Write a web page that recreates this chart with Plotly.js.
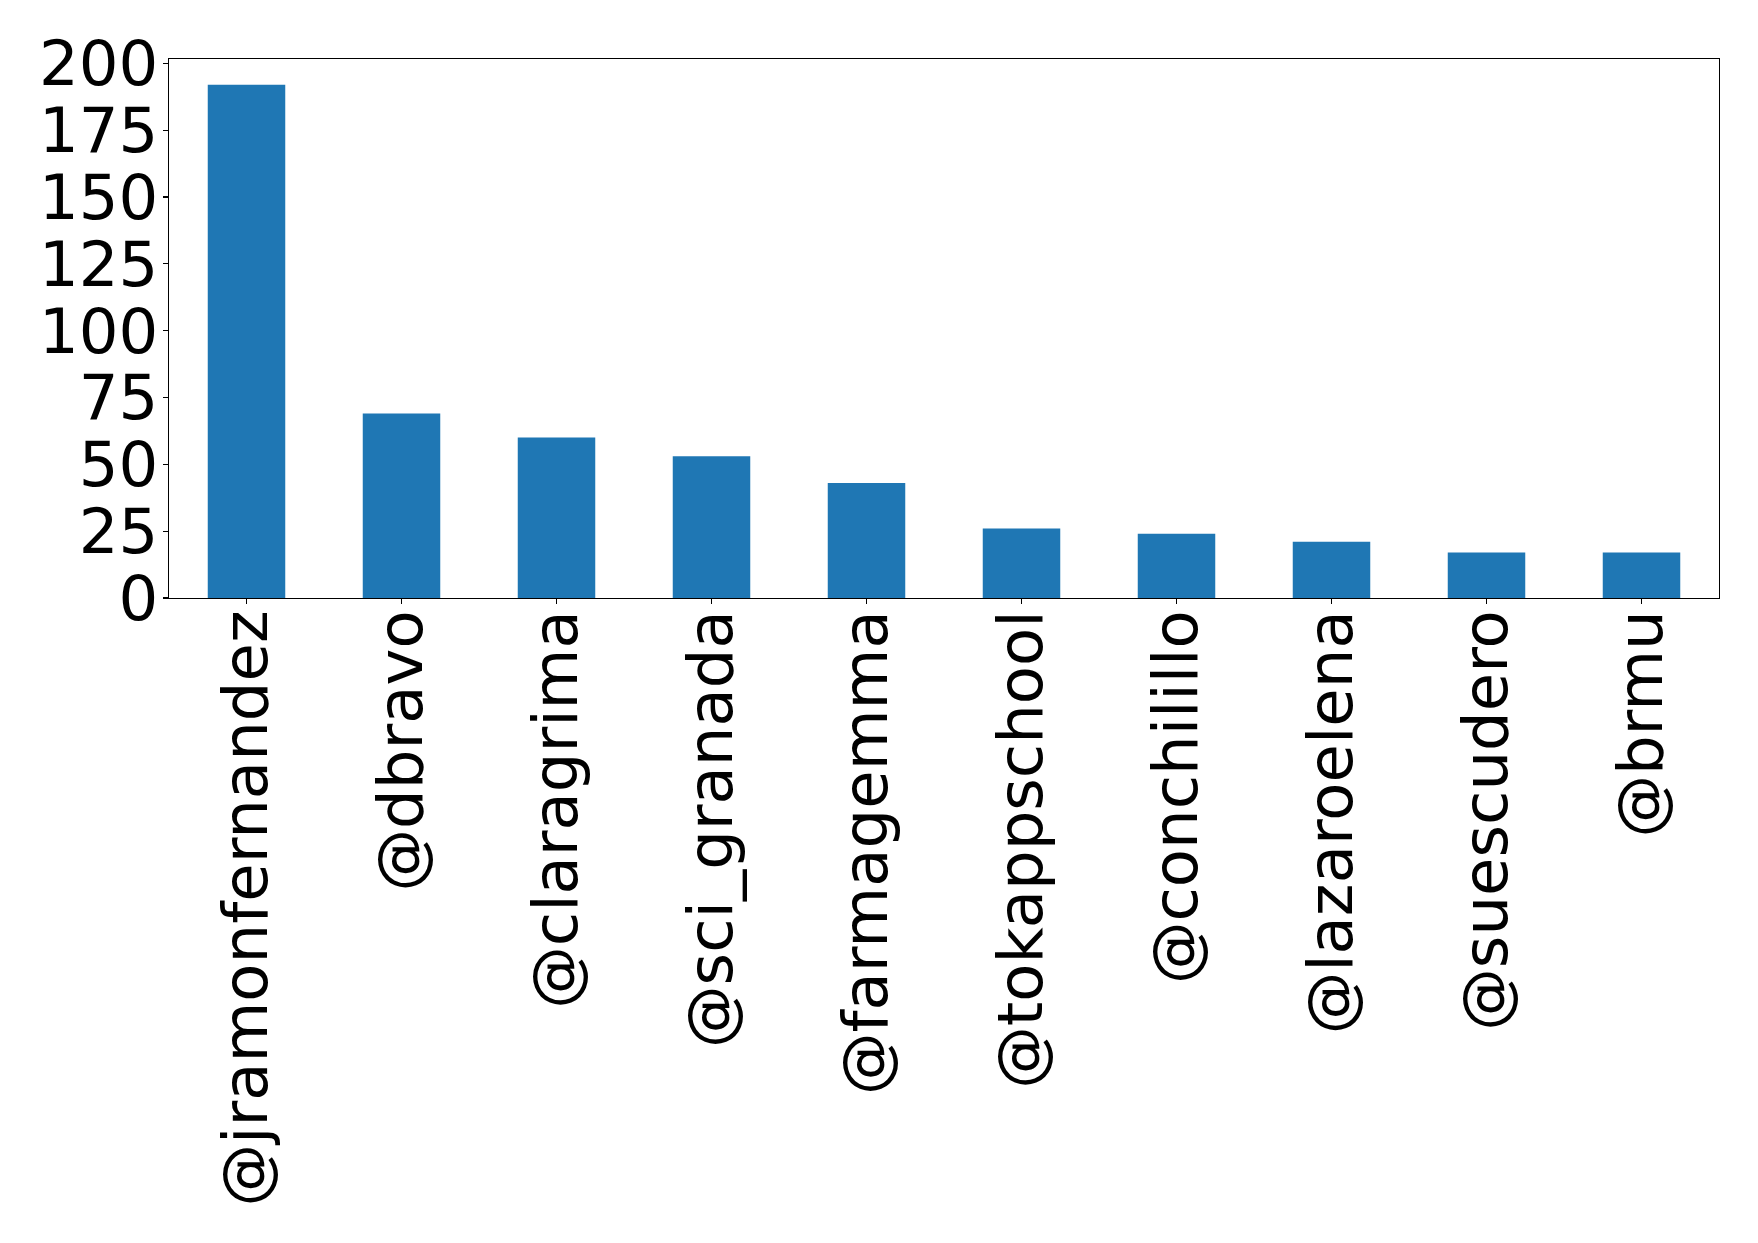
<!DOCTYPE html>
<html>
<head>
<meta charset="utf-8">
<script src="https://cdn.plot.ly/plotly-3.0.1.min.js"></script>
<style>html,body{margin:0;padding:0;background:#fff;}#chart{width:1758px;height:1243px;}</style>
</head>
<body>
<div id="chart"></div>
<script>
const users = ["@jramonfernandez", "@dbravo", "@claragrima", "@sci_granada", "@farmagemma", "@tokappschool", "@conchilillo", "@lazaroelena", "@suescudero", "@brmu"];
const counts = [192, 69, 60, 53, 43, 26, 24, 21, 17, 17];
const yTicks = [0, 25, 50, 75, 100, 125, 150, 175, 200];

const font = {family: "DejaVu Sans", size: 62.5, color: "#000"};

Plotly.newPlot("chart", [{
  type: "bar",
  x: users,
  y: counts,
  marker: {color: "#1f77b4", line: {width: 0}},
  hoverinfo: "x+y"
}], {
  width: 1758, height: 1243,
  margin: {l: 169, r: 39, t: 59, b: 645, pad: 0},
  paper_bgcolor: "#fff", plot_bgcolor: "#fff",
  bargap: 0.5,
  showlegend: false,
  font: font,
  xaxis: {
    type: "category",
    range: [-0.5, users.length - 0.5],
    tickangle: -90,
    ticks: "outside", ticklen: 5, tickwidth: 1.2, tickcolor: "#000",
    tickfont: font,
    ticklabelstandoff: -19,
    showline: true, linecolor: "#000", linewidth: 1.3, mirror: true,
    showgrid: false, zeroline: false, automargin: false
  },
  yaxis: {
    range: [0, 201.6],
    tickvals: yTicks,
    ticktext: yTicks.map(String),
    ticks: "outside", ticklen: 5, tickwidth: 1.2, tickcolor: "#000",
    tickfont: font,
    ticklabelstandoff: -8,
    showline: true, linecolor: "#000", linewidth: 1.3, mirror: true,
    showgrid: false, zeroline: false, automargin: false
  }
}, {displayModeBar: false, staticPlot: true});
</script>
</body>
</html>
